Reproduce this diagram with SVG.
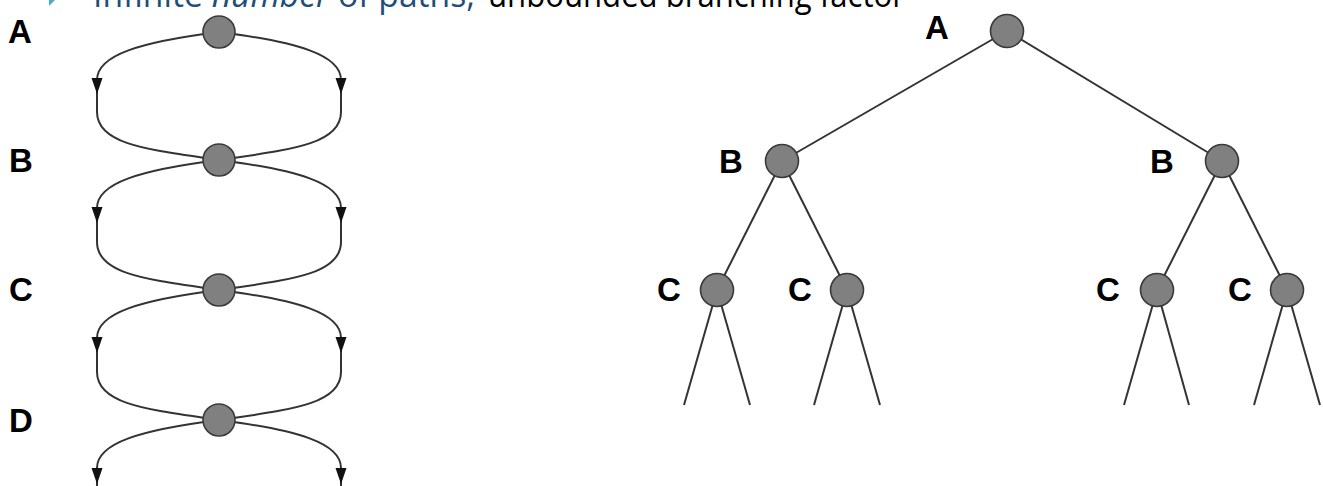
<svg xmlns="http://www.w3.org/2000/svg" width="1323" height="486" viewBox="0 0 1323 486">
  <defs>
    <style>
      .edge { fill: none; stroke: #333333; stroke-width: 2; }
      .arc { fill: none; stroke: #333333; stroke-width: 2; }
      .arr { marker-end: url(#arrow); }
      .node { fill: #808080; stroke: #3a3a3a; stroke-width: 1.6; }
      .lbl { font-family: "Liberation Sans", Arial, sans-serif; font-weight: bold; font-size: 33px; fill: #000000; }
      .head { font-family: "Open Sans", "Noto Sans", sans-serif; font-size: 34px; }
    </style>
    <marker id="arrow" markerUnits="userSpaceOnUse" markerWidth="18" markerHeight="14" refX="0" refY="0" viewBox="-17 -7 18 14" orient="auto">
      <path d="M0,0 L-16,-5.5 L-16,5.5 Z" fill="#111111"/>
    </marker>
  </defs>

  <rect width="1323" height="486" fill="#ffffff"/>

  <!-- heading line, partly above the top edge -->
  <g id="heading">
    <polygon points="49,-10 57,-2 49,6" fill="#4bacc6"/>
    <text class="head" x="93" y="7" fill="#1f4e79" textLength="382" lengthAdjust="spacingAndGlyphs">Infinite <tspan font-style="italic">number</tspan> of paths,</text>
    <text class="head" x="488" y="7" fill="#000000" textLength="417" lengthAdjust="spacingAndGlyphs">unbounded branching factor</text>
  </g>

  <!-- connectors -->
  <g id="connectors">
    <!-- state graph: two arcs between each pair of states, arrow halfway down -->
    <path class="arc arr" d="M219,32 C140,42 97,55 97,80 L97,94"/>
    <path class="arc" d="M97,94 L97,112 C97,145 150,150 219,160"/>
    <path class="arc arr" d="M219,32 C298,42 341,55 341,80 L341,94"/>
    <path class="arc" d="M341,94 L341,112 C341,145 288,150 219,160"/>

    <path class="arc arr" d="M219,160 C140,170 97,183 97,208 L97,223"/>
    <path class="arc" d="M97,223 L97,242 C97,275 150,280 219,290"/>
    <path class="arc arr" d="M219,160 C298,170 341,183 341,208 L341,223"/>
    <path class="arc" d="M341,223 L341,242 C341,275 288,280 219,290"/>

    <path class="arc arr" d="M219,290 C140,300 97,313 97,338 L97,353"/>
    <path class="arc" d="M97,353 L97,372 C97,405 150,410 219,420"/>
    <path class="arc arr" d="M219,290 C298,300 341,313 341,338 L341,353"/>
    <path class="arc" d="M341,353 L341,372 C341,405 288,410 219,420"/>

    <path class="arc arr" d="M219,420 C140,430 97,443 97,468 L97,484"/>
    <path class="arc" d="M97,484 L97,500"/>
    <path class="arc arr" d="M219,420 C298,430 341,443 341,468 L341,484"/>
    <path class="arc" d="M341,484 L341,500"/>

    <!-- search tree -->
    <line class="edge" x1="1007" y1="31" x2="782" y2="161"/>
    <line class="edge" x1="1007" y1="31" x2="1222" y2="161"/>
    <line class="edge" x1="782" y1="161" x2="717" y2="290"/>
    <line class="edge" x1="782" y1="161" x2="847" y2="290"/>
    <line class="edge" x1="1222" y1="161" x2="1157" y2="290"/>
    <line class="edge" x1="1222" y1="161" x2="1287" y2="290"/>
    <line class="edge" x1="717" y1="290" x2="684" y2="405"/>
    <line class="edge" x1="717" y1="290" x2="750" y2="405"/>
    <line class="edge" x1="847" y1="290" x2="814" y2="405"/>
    <line class="edge" x1="847" y1="290" x2="880" y2="405"/>
    <line class="edge" x1="1157" y1="290" x2="1124" y2="405"/>
    <line class="edge" x1="1157" y1="290" x2="1189" y2="405"/>
    <line class="edge" x1="1287" y1="290" x2="1254" y2="405"/>
    <line class="edge" x1="1287" y1="290" x2="1320" y2="405"/>
  </g>

  <!-- state graph nodes -->
  <g id="g-A"><circle class="node" cx="219" cy="32" r="16"/><text class="lbl" x="8" y="43">A</text></g>
  <g id="g-B"><circle class="node" cx="219" cy="160" r="16"/><text class="lbl" x="9" y="172">B</text></g>
  <g id="g-C"><circle class="node" cx="219" cy="290" r="16"/><text class="lbl" x="9" y="301">C</text></g>
  <g id="g-D"><circle class="node" cx="219" cy="420" r="16"/><text class="lbl" x="9" y="432">D</text></g>

  <!-- search tree nodes -->
  <g id="t-A"><circle class="node" cx="1007" cy="31" r="16.5"/><text class="lbl" x="925" y="39">A</text></g>
  <g id="t-B1"><circle class="node" cx="782" cy="161" r="16.5"/><text class="lbl" x="719" y="173">B</text></g>
  <g id="t-B2"><circle class="node" cx="1222" cy="161" r="16.5"/><text class="lbl" x="1150" y="173">B</text></g>
  <g id="t-C1"><circle class="node" cx="717" cy="290" r="16.5"/><text class="lbl" x="657" y="301">C</text></g>
  <g id="t-C2"><circle class="node" cx="847" cy="290" r="16.5"/><text class="lbl" x="788" y="301">C</text></g>
  <g id="t-C3"><circle class="node" cx="1157" cy="290" r="16.5"/><text class="lbl" x="1096" y="301">C</text></g>
  <g id="t-C4"><circle class="node" cx="1287" cy="290" r="16.5"/><text class="lbl" x="1228" y="301">C</text></g>
</svg>
